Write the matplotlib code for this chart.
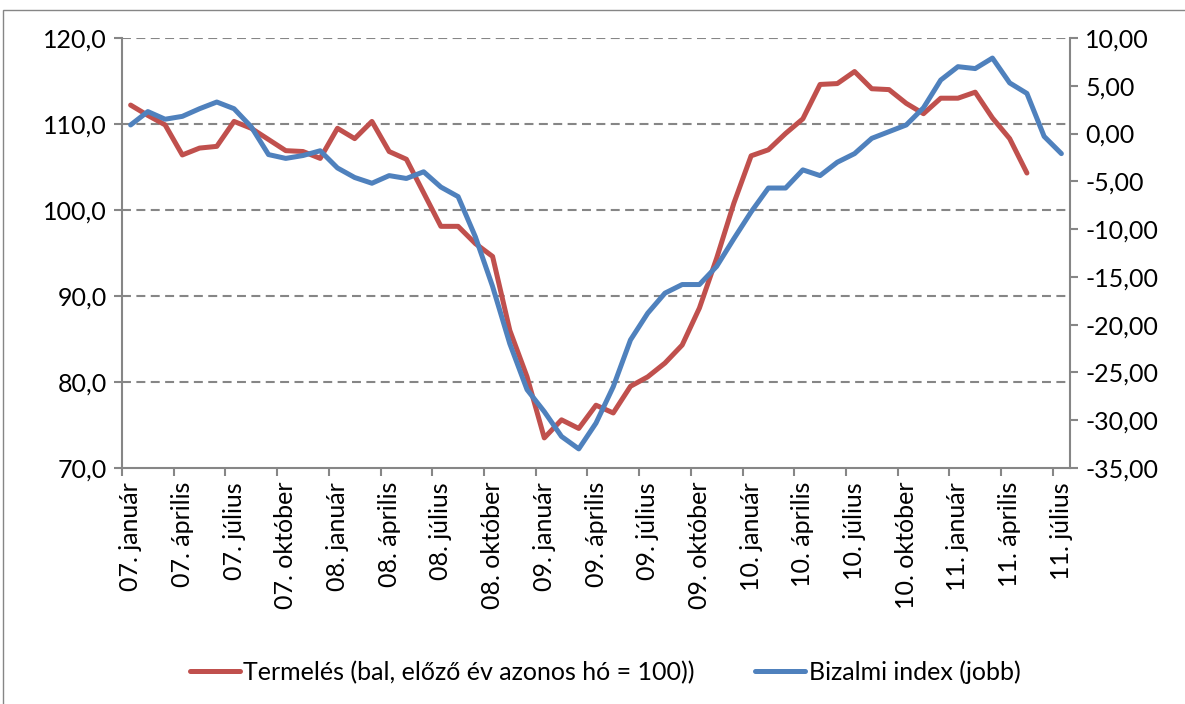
import matplotlib
matplotlib.use("Agg")
import matplotlib.pyplot as plt
from matplotlib.patches import Rectangle

plt.rcParams['font.family'] = ['Lato', 'DejaVu Sans']

# havi adatok: 2007 január - 2011 július
honapok = ['január', 'február', 'március', 'április', 'május', 'június',
           'július', 'augusztus', 'szeptember', 'október', 'november', 'december']
evek = ['07', '08', '09', '10', '11']
kategoriak = [f'{e}. {h}' for e in evek for h in honapok][:55]

# Termelés (bal tengely), 2011 májusig
termeles = [112.2, 111.0, 109.9, 106.4, 107.2, 107.4, 110.3, 109.5, 108.2, 106.9,
            106.8, 106.0, 109.5, 108.3, 110.3, 106.8, 105.9, 102.0, 98.1, 98.1,
            96.1, 94.6, 86.0, 80.6, 73.5, 75.6, 74.6, 77.3, 76.4, 79.5,
            80.6, 82.2, 84.3, 88.6, 94.4, 100.8, 106.3, 107.0, 108.9, 110.6,
            114.6, 114.7, 116.1, 114.1, 114.0, 112.4, 111.2, 113.0, 113.0, 113.7,
            110.7, 108.3, 104.3]

# Bizalmi index (jobb tengely)
bizalmi = [0.9, 2.3, 1.5, 1.8, 2.6, 3.3, 2.6, 0.7, -2.2, -2.6,
           -2.3, -1.8, -3.6, -4.6, -5.2, -4.4, -4.7, -4.0, -5.6, -6.6,
           -10.8, -16.0, -22.0, -26.8, -29.1, -31.7, -33.0, -30.3, -26.5, -21.6,
           -18.8, -16.7, -15.8, -15.8, -13.9, -11.0, -8.2, -5.7, -5.7, -3.8,
           -4.4, -3.0, -2.1, -0.5, 0.2, 0.9, 2.7, 5.6, 7.0, 6.8,
           7.9, 5.3, 4.2, -0.3, -2.1]

bal_tick = [70, 80, 90, 100, 110, 120]
jobb_tick = [-35, -30, -25, -20, -15, -10, -5, 0, 5, 10]

piros = '#C0504D'
kek = '#4F81BD'
szurke = '#868686'
fs = 18

fig = plt.figure(figsize=(11.85, 7.04), dpi=100)
fig.patches.append(Rectangle((3 / 1185, -0.1), 1.2, (704 - 10) / 704 + 0.1,
                             transform=fig.transFigure, fill=False,
                             edgecolor=szurke, linewidth=1.0))

ax = fig.add_axes([122 / 1185, (704 - 468) / 704, (1070 - 122) / 1185, (468 - 38) / 704])
ax2 = ax.twinx()

x1 = list(range(len(termeles)))
x2 = list(range(len(bizalmi)))
l1, = ax.plot(x1, termeles, color=piros, lw=3.6, solid_joinstyle='round',
              solid_capstyle='round', label='Termelés (bal, előző év azonos hó = 100))')
l2, = ax2.plot(x2, bizalmi, color=kek, lw=3.6, solid_joinstyle='round',
               solid_capstyle='round', label='Bizalmi index (jobb)')

ax.set_xlim(-0.5, len(kategoriak) - 0.5)
ax.set_ylim(70, 120)
ax2.set_ylim(-35, 10)

ax.set_yticks(bal_tick)
ax.set_yticklabels([f'{v:.1f}'.replace('.', ',') for v in bal_tick])
ax2.set_yticks(jobb_tick)
ax2.set_yticklabels([f'{v:.2f}'.replace('.', ',') for v in jobb_tick])

for v in bal_tick[1:]:
    ax.axhline(v, color=szurke, lw=1.5, ls=(0, (4.3, 2.6)), zorder=0)

poz = list(range(0, len(kategoriak), 3))
ax.set_xticks(poz)
ax.set_xticklabels([kategoriak[i] for i in poz], rotation=90)
ax.set_xticks([p - 0.5 for p in poz], minor=True)
ax.tick_params(axis='x', which='major', length=0, pad=10)
ax.tick_params(axis='x', which='minor', length=6, width=1.5, color=szurke, direction='out')
ax.tick_params(axis='y', length=6, width=1.5, color=szurke, pad=5)
ax2.tick_params(axis='y', length=6, width=1.5, color=szurke, pad=5)
for a in (ax, ax2):
    a.tick_params(labelsize=fs)
    for s in a.spines.values():
        s.set_color(szurke)
        s.set_linewidth(1.5)
    a.spines['top'].set_visible(False)
ax.spines['right'].set_visible(False)
ax2.spines['left'].set_visible(False)
ax2.spines['bottom'].set_visible(False)

fig.legend(handles=[l1, l2], loc='center', bbox_to_anchor=(605 / 1185, (704 - 672) / 704),
           ncol=2, frameon=False, fontsize=fs, handlelength=2.0, handletextpad=0.15,
           columnspacing=2.4)

fig.savefig('out.png', dpi=100)
